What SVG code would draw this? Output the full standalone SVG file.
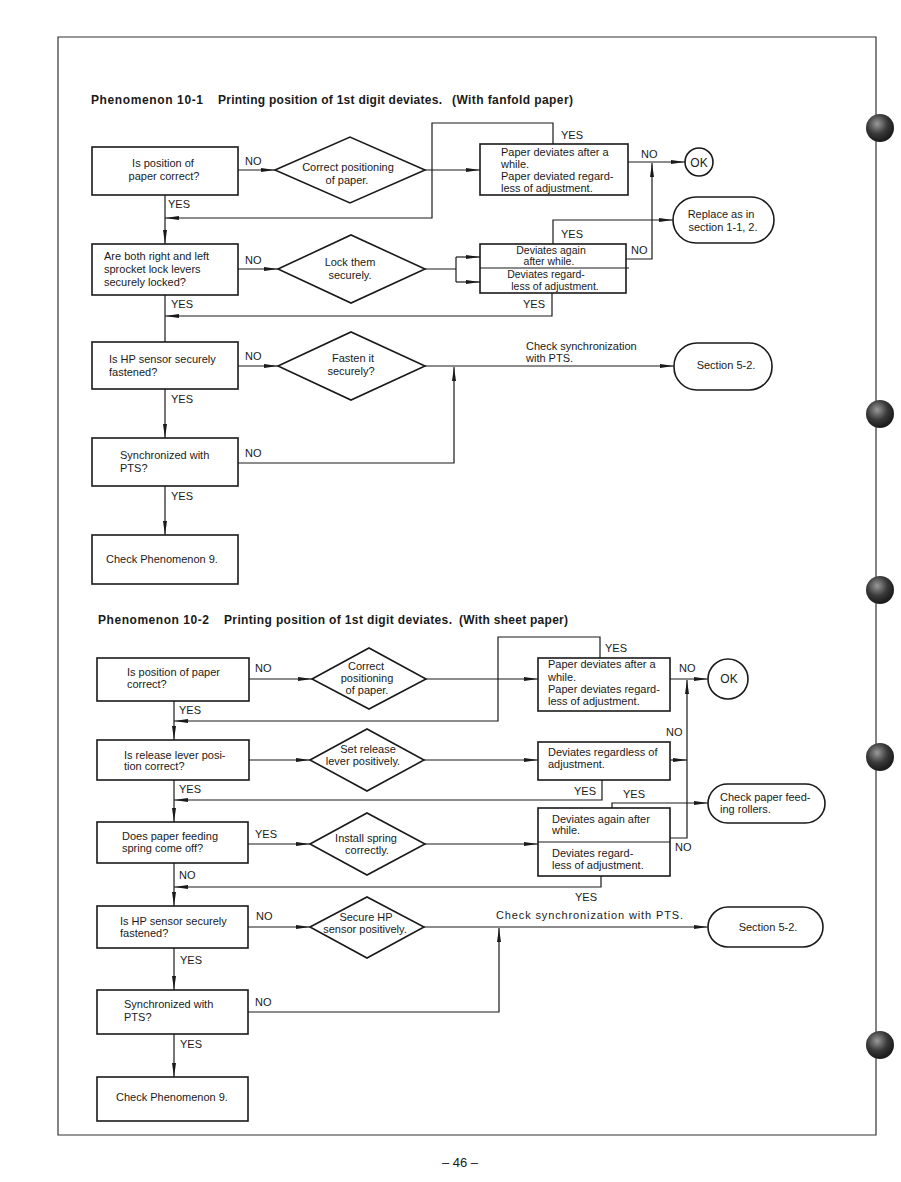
<svg xmlns="http://www.w3.org/2000/svg" width="901" height="1182" viewBox="0 0 901 1182">
<style>
text{font-family:"Liberation Sans",Arial,sans-serif;font-size:11px;fill:#1a1a1a}
.t{font-weight:bold;font-size:12px}
.m{text-anchor:middle}
.s{font-size:10.5px}
.b{fill:#fff;stroke:#1a1a1a;stroke-width:1.6}
.c{fill:none;stroke:#1a1a1a;stroke-width:1.2}
.a{marker-end:url(#ah)}
</style>
<defs>
<marker id="ah" viewBox="0 0 14 6" refX="14" refY="3" markerWidth="14" markerHeight="6" markerUnits="userSpaceOnUse" orient="auto"><path d="M0,1 L14,3 L0,5 z" fill="#1a1a1a"/></marker>
<radialGradient id="hole" cx="0.4" cy="0.35" r="0.6"><stop offset="0" stop-color="#9a9a9a"/><stop offset="0.6" stop-color="#3a3a3a"/><stop offset="1" stop-color="#1e1e1e"/></radialGradient>
</defs>
<rect width="901" height="1182" fill="#fff"/>
<g id="page">
<path d="M58,37 H876 V1135 H58 Z" fill="none" stroke="#333" stroke-width="1.2"/>
<text x="460" y="1167" class="m" style="font-size:13px">– 46 –</text>
<circle cx="880" cy="128" r="14" fill="url(#hole)"/>
<circle cx="880" cy="414" r="14" fill="url(#hole)"/>
<circle cx="880" cy="590" r="14" fill="url(#hole)"/>
<circle cx="880" cy="757" r="14" fill="url(#hole)"/>
<circle cx="880" cy="1045" r="14" fill="url(#hole)"/>
</g>
<g id="title1">
<text class="t" x="91" y="104" textLength="112" lengthAdjust="spacing">Phenomenon  10-1</text>
<text class="t" x="218" y="104" textLength="224" lengthAdjust="spacing">Printing position of 1st digit deviates.</text>
<text class="t" x="452" y="104" textLength="121" lengthAdjust="spacing">(With fanfold paper)</text>
</g>
<g id="connectors1">
<path class="c a" d="M165,195 V244"/>
<path class="c a" d="M238,170 H275"/>
<path class="c a" d="M425,170 H480"/>
<path class="c a" d="M553,144 V123 H432 V218 H165"/>
<path class="c a" d="M628,162 H685"/>
<path class="c a" d="M626,259 H652 V163"/>
<path class="c a" d="M553,244 V220 H673"/>
<path class="c a" d="M238,269 H278"/>
<path class="c" d="M425,269 H456 M456,257 V282"/>
<path class="c a" d="M456,257 H480"/>
<path class="c a" d="M456,282 H480"/>
<path class="c a" d="M552,293 V316 H165"/>
<path class="c" d="M165,295 V342"/>
<path class="c a" d="M238,366 H278"/>
<path class="c a" d="M425,366 H674"/>
<path class="c a" d="M165,389 V438"/>
<path class="c a" d="M238,463 H454 V367"/>
<path class="c a" d="M165,486 V535"/>
<text x="168" y="208">YES</text>
<text x="245" y="165">NO</text>
<text x="561" y="139">YES</text>
<text x="641" y="158">NO</text>
<text x="561" y="238">YES</text>
<text x="631" y="254">NO</text>
<text x="245" y="264">NO</text>
<text x="171" y="308">YES</text>
<text x="523" y="308">YES</text>
<text x="245" y="360">NO</text>
<text x="526" y="350">Check synchronization</text>
<text x="526" y="362">with PTS.</text>
<text x="171" y="403">YES</text>
<text x="245" y="457">NO</text>
<text x="171" y="500">YES</text>
</g>
<g id="n1-1"><rect class="b" x="92" y="147" width="146" height="48"/><text class="m" x="163" y="167">Is position of</text><text class="m" x="164" y="180">paper correct?</text></g>
<g id="d1-1"><polygon class="b" points="275,170 350,137 425,170 350,203"/><text class="m" x="348" y="171">Correct positioning</text><text class="m" x="347" y="184">of paper.</text></g>
<g id="b1-1"><rect class="b" x="480" y="144" width="148" height="51"/><text x="501" y="156">Paper deviates after a</text><text x="501" y="168">while.</text><text x="501" y="180">Paper deviated regard-</text><text x="501" y="192">less of adjustment.</text></g>
<g id="ok1"><circle class="b" cx="699" cy="162" r="14"/><text class="m" x="699" y="167" style="font-size:12px">OK</text></g>
<g id="replace"><rect class="b" x="673" y="197" width="101" height="46" rx="23"/><text class="m" x="721" y="218">Replace as in</text><text class="m" x="723" y="231">section 1-1, 2.</text></g>
<g id="n1-2"><rect class="b" x="92" y="244" width="146" height="51"/><text x="104" y="260">Are both right and left</text><text x="104" y="273">sprocket lock levers</text><text x="104" y="286">securely locked?</text></g>
<g id="d1-2"><polygon class="b" points="278,269 351,235 425,269 351,303"/><text class="m" x="350" y="266">Lock them</text><text class="m" x="350" y="279">securely.</text></g>
<g id="b1-2"><rect class="b" x="480" y="244" width="146" height="49"/><path class="c" d="M480,268 H629"/><text class="m s" x="551" y="254">Deviates again</text><text class="m s" x="549" y="265">after while.</text><text class="m s" x="546" y="278">Deviates regard-</text><text class="m s" x="555" y="290">less of adjustment.</text></g>
<g id="n1-3"><rect class="b" x="92" y="342" width="146" height="47"/><text x="109" y="363">Is HP sensor securely</text><text x="109" y="376">fastened?</text></g>
<g id="d1-3"><polygon class="b" points="278,366 351,332 425,366 351,400"/><text class="m" x="353" y="362">Fasten it</text><text class="m" x="351" y="375">securely?</text></g>
<g id="s1"><rect class="b" x="674" y="343" width="98" height="47" rx="23"/><text class="m" x="726" y="369">Section 5-2.</text></g>
<g id="n1-4"><rect class="b" x="92" y="438" width="146" height="48"/><text x="120" y="459">Synchronized with</text><text x="120" y="472">PTS?</text></g>
<g id="n1-5"><rect class="b" x="92" y="535" width="146" height="49"/><text x="106" y="563">Check Phenomenon 9.</text></g>

<g id="title2">
<text class="t" x="98" y="624" textLength="111" lengthAdjust="spacing">Phenomenon  10-2</text>
<text class="t" x="224" y="624" textLength="228" lengthAdjust="spacing">Printing position of 1st digit deviates.</text>
<text class="t" x="459" y="624" textLength="109" lengthAdjust="spacing">(With sheet paper)</text>
</g>
<g id="connectors2">
<path class="c a" d="M174,701 V740"/>
<path class="c a" d="M174,780 V822"/>
<path class="c a" d="M174,863 V906"/>
<path class="c a" d="M174,948 V990"/>
<path class="c a" d="M174,1034 V1077"/>
<path class="c a" d="M249,679 H312"/>
<path class="c a" d="M426,679 H538"/>
<path class="c a" d="M600,658 V637 H498 V721 H174"/>
<path class="c a" d="M670,679 H708"/>
<path class="c a" d="M670,838 H687 V680"/>
<path class="c a" d="M249,760 H310"/>
<path class="c a" d="M424,760 H538"/>
<path class="c a" d="M670,760 H687"/>
<path class="c a" d="M602,780 V800 H174"/>
<path class="c a" d="M612,808 V803 H708"/>
<path class="c a" d="M248,844 H310"/>
<path class="c a" d="M425,844 H538"/>
<path class="c a" d="M601,876 V887 H174"/>
<path class="c a" d="M248,927 H310"/>
<path class="c a" d="M424,927 H708"/>
<path class="c a" d="M248,1012 H499 V928"/>
<text x="255" y="672">NO</text>
<text x="605" y="652">YES</text>
<text x="679" y="672">NO</text>
<text x="179" y="714">YES</text>
<text x="666" y="736">NO</text>
<text x="179" y="793">YES</text>
<text x="574" y="795">YES</text>
<text x="623" y="798">YES</text>
<text x="255" y="838">YES</text>
<text x="675" y="851">NO</text>
<text x="179" y="879">NO</text>
<text x="575" y="901">YES</text>
<text x="256" y="920">NO</text>
<text x="496" y="919" textLength="187" lengthAdjust="spacing">Check synchronization with PTS.</text>
<text x="180" y="964">YES</text>
<text x="255" y="1006">NO</text>
<text x="180" y="1048">YES</text>
</g>
<g id="n2-1"><rect class="b" x="97" y="658" width="152" height="43"/><text x="127" y="676">Is position of paper</text><text x="127" y="688">correct?</text></g>
<g id="d2-1"><polygon class="b" points="312,679 369,648 426,679 369,709"/><text class="m" x="366" y="670">Correct</text><text class="m" x="367" y="682">positioning</text><text class="m" x="367" y="694">of paper.</text></g>
<g id="b2-1"><rect class="b" x="538" y="658" width="132" height="53"/><text x="548" y="668">Paper deviates after a</text><text x="548" y="681">while.</text><text x="548" y="693">Paper deviates regard-</text><text x="548" y="705">less of adjustment.</text></g>
<g id="ok2"><circle class="b" cx="728" cy="679" r="20"/><text class="m" x="729" y="683" style="font-size:12px">OK</text></g>
<g id="n2-2"><rect class="b" x="97" y="740" width="152" height="40"/><text x="124" y="759">Is release lever posi-</text><text x="124" y="770">tion correct?</text></g>
<g id="d2-2"><polygon class="b" points="310,760 367,729 424,760 367,791"/><text class="m" x="368" y="753">Set release</text><text class="m" x="363" y="765">lever positively.</text></g>
<g id="b2-2"><rect class="b" x="538" y="742" width="132" height="38"/><text x="548" y="756">Deviates regardless of</text><text x="548" y="768">adjustment.</text></g>
<g id="rollers"><rect class="b" x="708" y="784" width="117" height="39" rx="19.5"/><text x="720" y="801">Check paper feed-</text><text x="720" y="813">ing rollers.</text></g>
<g id="n2-3"><rect class="b" x="97" y="822" width="151" height="41"/><text x="122" y="840">Does paper feeding</text><text x="122" y="852">spring come off?</text></g>
<g id="d2-3"><polygon class="b" points="310,844 367,813 425,844 367,875"/><text class="m" x="366" y="842">Install spring</text><text class="m" x="367" y="854">correctly.</text></g>
<g id="b2-3"><rect class="b" x="538" y="808" width="132" height="68"/><path class="c" d="M538,842 H670"/><text x="552" y="823">Deviates again after</text><text x="552" y="834">while.</text><text x="552" y="857">Deviates regard-</text><text x="552" y="869">less of adjustment.</text></g>
<g id="n2-4"><rect class="b" x="97" y="906" width="151" height="42"/><text x="120" y="925">Is HP sensor securely</text><text x="120" y="937">fastened?</text></g>
<g id="d2-4"><polygon class="b" points="310,927 367,897 424,927 367,958"/><text class="m" x="366" y="921">Secure HP</text><text class="m" x="365" y="933">sensor positively.</text></g>
<g id="s2"><rect class="b" x="708" y="907" width="115" height="40" rx="20"/><text class="m" x="768" y="931">Section 5-2.</text></g>
<g id="n2-5"><rect class="b" x="97" y="990" width="151" height="44"/><text x="124" y="1008">Synchronized with</text><text x="124" y="1021">PTS?</text></g>
<g id="n2-6"><rect class="b" x="97" y="1077" width="151" height="44"/><text x="116" y="1101">Check Phenomenon 9.</text></g>
</svg>
